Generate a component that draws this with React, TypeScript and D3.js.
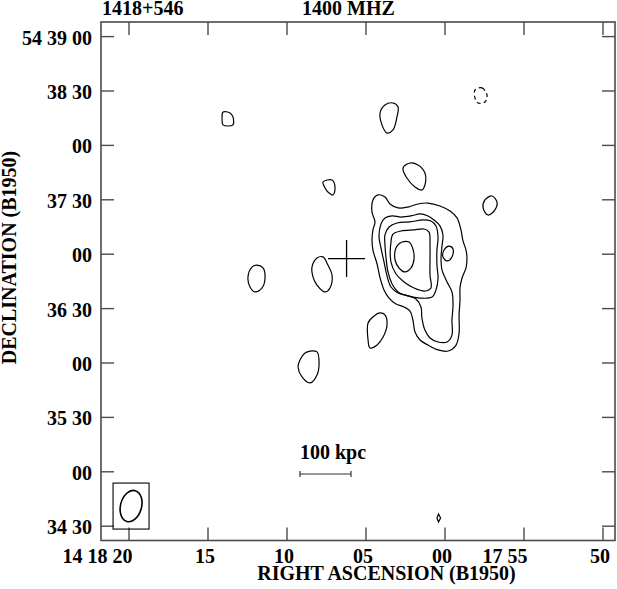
import React from "react";
import * as d3 from "d3";

// RA in seconds after 14h17m (B1950); Dec in arcsec after +54°00'00"
const raTicks = [80, 75, 70, 65, 60, 55, 50];
const raTickLabels = ["14 18 20", "15", "10", "05", "00", "17 55", "50"];
const decTicks = [2340, 2310, 2280, 2250, 2220, 2190, 2160, 2130, 2100, 2070];
const decTickLabels = ["54 39 00", "38 30", "00", "37 30", "00", "36 30", "00", "35 30", "00", "34 30"];

type P = [number, number];

// main source contours (outer to inner)
const contourL1: P[] = [[64.56,2249.9],[64.24,2252.7],[63.80,2251.5],[63.48,2247.7],[62.97,2245.5],[62.34,2246.0],[61.71,2247.7],[61.08,2248.2],[60.32,2246.6],[59.68,2243.8],[59.24,2240.0],[58.99,2233.4],[58.86,2227.3],[58.67,2222.3],[58.61,2217.9],[58.67,2212.4],[58.92,2206.9],[59.05,2201.4],[59.05,2194.7],[59.11,2186.5],[59.11,2176.5],[59.30,2169.9],[59.81,2166.6],[60.44,2167.2],[61.08,2169.9],[61.58,2172.7],[61.90,2177.1],[62.03,2183.7],[62.22,2188.7],[62.59,2190.9],[63.10,2192.5],[63.54,2195.8],[63.86,2200.3],[64.11,2206.9],[64.30,2214.6],[64.56,2222.3],[64.62,2227.8],[64.56,2233.4],[64.43,2237.8],[64.62,2243.3]];
const contourL2: P[] = [[64.05,2236.7],[63.80,2240.0],[63.35,2241.1],[62.78,2240.5],[62.15,2241.1],[61.58,2242.2],[61.08,2241.1],[60.70,2238.9],[60.32,2235.6],[60.13,2230.6],[60.19,2224.5],[60.25,2217.9],[60.19,2211.3],[59.87,2204.7],[59.56,2199.2],[59.49,2192.0],[59.56,2183.7],[59.56,2175.4],[59.87,2171.6],[60.44,2171.6],[60.95,2173.8],[61.27,2178.2],[61.46,2184.8],[61.52,2190.9],[61.84,2195.3],[62.34,2197.0],[62.97,2198.6],[63.42,2201.9],[63.67,2208.0],[63.86,2215.7],[64.05,2223.4],[64.18,2230.0]];
const contourL3: P[] = [[63.80,2230.6],[63.54,2235.0],[63.04,2237.2],[62.22,2237.8],[61.39,2238.9],[60.89,2238.3],[60.57,2235.6],[60.44,2229.5],[60.51,2222.3],[60.51,2214.0],[60.44,2206.9],[60.57,2200.3],[60.82,2196.4],[61.58,2195.8],[62.34,2197.0],[62.97,2199.2],[63.35,2203.6],[63.61,2210.2],[63.73,2217.9],[63.80,2225.1]];
const contourL4: P[] = [[63.42,2226.7],[63.29,2231.1],[62.78,2232.8],[61.96,2233.4],[61.33,2233.9],[61.01,2232.2],[60.95,2225.1],[60.95,2216.8],[60.95,2208.5],[60.89,2201.4],[61.27,2199.7],[61.96,2201.4],[62.59,2204.7],[63.10,2209.1],[63.42,2215.7]];
const contourL5: P[] = [[63.04,2224.5],[62.72,2226.7],[62.28,2226.7],[62.03,2222.9],[61.96,2217.4],[62.15,2212.4],[62.53,2210.2],[62.91,2212.4],[63.16,2216.8],[63.16,2221.8]];
const eastKnot: P[] = [[60.06,2222.3],[59.75,2224.5],[59.49,2222.9],[59.56,2218.5],[59.87,2216.3],[60.13,2218.5]];

// isolated lowest-level islands
const blobA: P[] = [[74.05,2298.4],[73.61,2297.9],[73.42,2295.7],[73.42,2291.3],[73.73,2290.7],[74.05,2291.3],[74.11,2295.1]];
const blobB: P[] = [[64.11,2297.9],[63.80,2302.3],[63.29,2303.4],[62.97,2301.2],[63.04,2295.7],[63.29,2288.5],[63.67,2286.8],[63.99,2291.3]];
const blobC: P[] = [[67.72,2259.8],[67.15,2260.9],[66.96,2256.5],[67.09,2252.7],[67.41,2254.3],[67.59,2256.5]];
const blobD: P[] = [[62.66,2267.5],[62.22,2270.3],[61.71,2269.2],[61.27,2264.8],[61.27,2258.2],[61.46,2255.4],[61.90,2257.1],[62.41,2262.0]];
const blobE: P[] = [[57.47,2249.9],[57.03,2252.1],[56.71,2248.8],[56.84,2244.4],[57.28,2241.6],[57.59,2245.5]];
const blobF: P[] = [[72.47,2207.4],[72.22,2212.9],[71.90,2214.0],[71.52,2212.4],[71.39,2206.9],[71.58,2201.4],[72.03,2199.2],[72.34,2201.9]];
const blobG: P[] = [[68.42,2212.9],[68.10,2217.9],[67.72,2218.5],[67.41,2214.0],[67.15,2208.5],[67.28,2201.4],[67.59,2199.2],[68.10,2203.0],[68.35,2207.4]];
const blobH: P[] = [[64.87,2182.1],[64.56,2185.4],[64.11,2187.6],[63.80,2186.5],[63.67,2181.0],[63.92,2174.3],[64.30,2169.9],[64.75,2168.3],[64.87,2172.7]];
const blobI: P[] = [[69.18,2161.7],[68.86,2165.5],[68.54,2166.6],[68.10,2166.1],[67.97,2160.0],[68.10,2153.4],[68.54,2149.0],[69.05,2152.3],[69.30,2157.8]];
const blobTiny: P[] = [[60.41,2076.7],[60.28,2074.5],[60.41,2072.3],[60.51,2074.5]];
// negative contour (dashed)
const negBlob: P[] = [[58.10,2310.6],[57.66,2311.7],[57.34,2307.8],[57.47,2303.9],[57.91,2303.4],[58.10,2306.1]];

const solidContours: P[][] = [contourL1, contourL2, contourL3, contourL4, contourL5, eastKnot, blobA, blobB, blobC, blobD, blobE, blobF, blobG, blobH, blobI];

// pointing centre cross
const crossRA = 66.23;
const crossDec = 2217.6;
const crossHalfRA = 1.17; // seconds
const crossHalfDec = 10.2; // arcsec

// 100 kpc scale bar
const barRA = [69.18, 65.95];
const barDec = 2098.8;
const barLabel = "100 kpc";

// restoring beam
const beamRA = 79.87;
const beamDec = 2081.1;
const beamMajor = 17.6; // arcsec
const beamMinor = 11.6; // arcsec
const beamPA = 15; // deg

const W = 617;
const H = 589;
const frame = { left: 101, right: 615, top: 22, bottom: 540.5 };
const tickLen = 13;
const font = "'Liberation Serif', 'Times New Roman', serif";

export default function App() {
  const x = d3.scaleLinear().domain([80, 50]).range([129, 603]);
  const y = d3.scaleLinear().domain([2070, 2340]).range([526.2, 36.6]);
  const pxPerArcsec = Math.abs(y(1) - y(0));

  const closed = d3
    .line<P>()
    .x((d) => x(d[0]))
    .y((d) => y(d[1]))
    .curve(d3.curveCatmullRomClosed.alpha(0.5));
  const poly = d3
    .line<P>()
    .x((d) => x(d[0]))
    .y((d) => y(d[1]))
    .curve(d3.curveLinearClosed);

  const frameColor = "#4a4a4a";
  const bx = x(beamRA);
  const by = y(beamDec);

  return (
    <svg
      width={W}
      height={H}
      style={{ position: "absolute", left: 0, top: 0, background: "#fff" }}
      fontFamily={font}
      fontWeight="bold"
    >
      <rect x={0} y={0} width={W} height={H} fill="#fff" />
      {/* frame */}
      <rect
        x={frame.left}
        y={frame.top}
        width={frame.right - frame.left}
        height={frame.bottom - frame.top}
        fill="none"
        stroke={frameColor}
        strokeWidth={1.6}
      />
      {/* RA ticks */}
      {raTicks.map((t, i) => (
        <g key={"rx" + i}>
          <line x1={x(t)} x2={x(t)} y1={frame.top} y2={frame.top + tickLen} stroke={frameColor} strokeWidth={1.4} />
          <line x1={x(t)} x2={x(t)} y1={frame.bottom} y2={frame.bottom - tickLen} stroke={frameColor} strokeWidth={1.4} />
          <text
            x={x(t) + (raTickLabels[i].length > 2 ? 3.5 : 7)}
            y={563}
            textAnchor="end"
            fontSize={20}
            fill="#000"
          >
            {raTickLabels[i]}
          </text>
        </g>
      ))}
      {/* Dec ticks */}
      {decTicks.map((t, i) => (
        <g key={"dy" + i}>
          <line x1={frame.left} x2={frame.left + tickLen} y1={y(t)} y2={y(t)} stroke={frameColor} strokeWidth={1.4} />
          <line x1={frame.right} x2={frame.right - tickLen} y1={y(t)} y2={y(t)} stroke={frameColor} strokeWidth={1.4} />
          <text x={92} y={y(t) + 8} textAnchor="end" fontSize={20} fill="#000">
            {decTickLabels[i]}
          </text>
        </g>
      ))}
      {/* titles */}
      <text x={102} y={15} fontSize={20} fill="#000">1418+546</text>
      <text x={302} y={15} fontSize={20} fill="#000">1400 MHZ</text>
      <text x={386.5} y={580} fontSize={20} textAnchor="middle" fill="#000">
        RIGHT ASCENSION (B1950)
      </text>
      <text
        transform={`translate(16,257.5) rotate(-90)`}
        fontSize={20}
        textAnchor="middle"
        fill="#000"
      >
        DECLINATION (B1950)
      </text>

      {/* contours */}
      {solidContours.map((c, i) => (
        <path key={"c" + i} d={closed(c) || ""} fill="none" stroke="#000" strokeWidth={1.2} />
      ))}
      <path d={poly(blobTiny) || ""} fill="none" stroke="#000" strokeWidth={1.2} />
      <path d={closed(negBlob) || ""} fill="none" stroke="#000" strokeWidth={1.2} strokeDasharray="4,3" />

      {/* cross */}
      <line x1={x(crossRA + crossHalfRA)} x2={x(crossRA - crossHalfRA)} y1={y(crossDec)} y2={y(crossDec)} stroke="#000" strokeWidth={1.3} />
      <line x1={x(crossRA)} x2={x(crossRA)} y1={y(crossDec + crossHalfDec)} y2={y(crossDec - crossHalfDec)} stroke="#000" strokeWidth={1.3} />

      {/* scale bar */}
      <text x={x(barRA[0])} y={459} fontSize={20} fill="#000">{barLabel}</text>
      <line x1={x(barRA[0])} x2={x(barRA[1])} y1={y(barDec)} y2={y(barDec)} stroke="#333" strokeWidth={1.2} />
      <line x1={x(barRA[0])} x2={x(barRA[0])} y1={y(barDec) - 3} y2={y(barDec) + 3} stroke="#333" strokeWidth={1.2} />
      <line x1={x(barRA[1])} x2={x(barRA[1])} y1={y(barDec) - 3} y2={y(barDec) + 3} stroke="#333" strokeWidth={1.2} />

      {/* beam */}
      <rect x={bx - 18} y={by - 23} width={36} height={46} fill="none" stroke="#000" strokeWidth={1.1} />
      <ellipse
        cx={bx}
        cy={by}
        rx={(beamMinor / 2) * pxPerArcsec}
        ry={(beamMajor / 2) * pxPerArcsec}
        transform={`rotate(${beamPA},${bx},${by})`}
        fill="none"
        stroke="#000"
        strokeWidth={1.6}
      />
    </svg>
  );
}
